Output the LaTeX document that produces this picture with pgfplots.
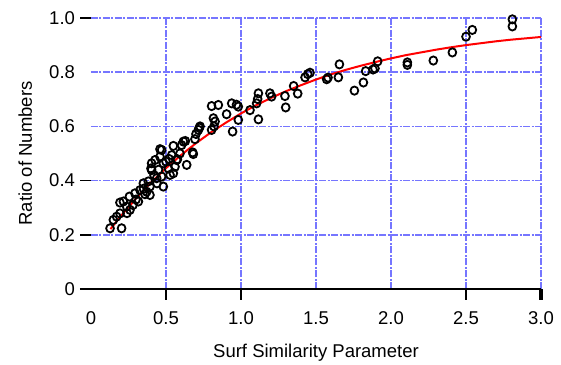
\documentclass[border=0pt]{standalone}
\usepackage{fontspec}
\setmainfont{Liberation Sans}
\usepackage{pgfplots}
\pgfplotsset{compat=1.18}
\definecolor{gridblue}{RGB}{118,118,255}
\definecolor{fitred}{RGB}{255,0,0}

\begin{document}
\begin{tikzpicture}
\begin{axis}[
  scale only axis, width=450pt, height=271pt,
  xmin=0, xmax=3, ymin=0, ymax=1,
  clip=false,
  axis x line*=bottom, axis y line*=left,
  x axis line style={line width=1.6pt, shorten <=-11pt},
  y axis line style={draw=none},
  /pgf/number format/assume math mode=true,
  tick label style={font=\fontsize{18.5}{22}\selectfont},
  label style={font=\fontsize{18.5}{22}\selectfont},
  major tick length=0pt,
  xtick={0.5,1.0,1.5,2.0,2.5,3.0},
  xticklabels={0.5,1.0,1.5,2.0,2.5,3.0},
  extra x ticks={0}, extra x tick labels={0},
  extra x tick style={grid=none},
  ytick={0.2,0.4,0.6,0.8,1.0},
  yticklabels={0.2,0.4,0.6,0.8,1.0},
  extra y ticks={0}, extra y tick labels={0},
  extra y tick style={grid=none},
  xticklabel style={yshift=-19pt},
  yticklabel style={xshift=-12.5pt},
  grid=major,
  major grid style={gridblue, line width=1.4pt,
    dash pattern=on 7pt off 1.5pt on 2pt off 1.5pt},
  xlabel={Surf Similarity Parameter},
  ylabel={Ratio of Numbers},
  xlabel style={at={(axis description cs:0.5,-0.2509)}, anchor=base},
  ylabel style={at={(axis description cs:-0.1311,0.5)}, anchor=base},
]
% page frame
\path (rel axis cs:-0.2022,-0.2657) rectangle (rel axis cs:1.0444,1.0664);

% tick marks
\pgfplotsinvokeforeach{0.5,1.0,2.5}{
  \draw[black, line width=1.6pt] (axis cs:#1,0) -- ++(0,-11pt);
}
\draw[black, line width=4.2pt] (axis cs:3,0) -- ++(0,-11pt);
\pgfplotsinvokeforeach{0,0.2,0.4,1.0}{
  \draw[black, line width=1.6pt] (axis cs:0,#1) -- ++(-11pt,0);
}

% measured ratios
\addplot[only marks, mark=o, mark size=3.9pt,
  mark options={black, line width=1.8pt, yscale=1.06}] coordinates {
  (0.127,0.224) (0.204,0.224) (0.149,0.255) (0.171,0.267) (0.193,0.279)
  (0.193,0.319) (0.216,0.323) (0.238,0.304) (0.260,0.292) (0.256,0.341)
  (0.293,0.353) (0.327,0.365) (0.349,0.390) (0.316,0.323) (0.371,0.359)
  (0.393,0.347) (0.393,0.378) (0.382,0.397) (0.482,0.378) (0.471,0.415)
  (0.438,0.409) (0.404,0.439) (0.404,0.464) (0.427,0.476) (0.460,0.488)
  (0.482,0.464) (0.471,0.513) (0.516,0.445) (0.527,0.421) (0.549,0.427)
  (0.560,0.451) (0.638,0.458) (0.571,0.476) (0.538,0.494) (0.593,0.500)
  (0.682,0.498) (0.300,0.330) (0.350,0.370) (0.420,0.420) (0.450,0.440)
  (0.500,0.470) (0.520,0.480) (0.360,0.350) (0.280,0.310) (0.240,0.280)
  (0.440,0.390) (0.400,0.445) (0.576,0.479)
  (0.460,0.516) (0.549,0.528) (0.616,0.544) (0.629,0.546) (0.604,0.531)
  (0.678,0.504) (0.693,0.553) (0.700,0.572) (0.716,0.587) (0.727,0.600)
  (0.722,0.595) (0.804,0.587) (0.820,0.600) (0.827,0.618) (0.816,0.630)
  (0.804,0.675) (0.849,0.679) (0.938,0.685) (0.982,0.673) (0.970,0.680)
  (0.904,0.645) (0.982,0.624) (0.944,0.581) (1.060,0.660) (1.104,0.685)
  (1.116,0.722) (1.111,0.701) (1.193,0.722) (1.204,0.710) (1.116,0.626)
  (1.293,0.712) (1.298,0.670) (1.351,0.749) (1.378,0.721) (1.427,0.781)
  (1.445,0.793) (1.460,0.798)
  (1.571,0.774) (1.580,0.780) (1.649,0.781) (1.656,0.829) (1.756,0.732)
  (1.816,0.762) (1.831,0.804) (1.880,0.810) (1.893,0.814) (1.911,0.840)
  (2.109,0.836) (2.109,0.827) (2.282,0.843) (2.409,0.873) (2.500,0.931)
  (2.542,0.956) (2.809,0.995) (2.809,0.969)
};

% fitted curve
\addplot[fitred, line width=2pt, sharp plot] coordinates {
  (0.13,0.221) (0.2,0.270) (0.3,0.334) (0.4,0.393) (0.5,0.446)
  (0.6,0.494) (0.7,0.538) (0.8,0.578) (0.9,0.614) (1.0,0.648)
  (1.1,0.678) (1.2,0.705) (1.3,0.730) (1.4,0.752) (1.5,0.773)
  (1.6,0.792) (1.7,0.809) (1.8,0.824) (1.9,0.838) (2.0,0.851)
  (2.1,0.863) (2.2,0.873) (2.3,0.883) (2.4,0.892) (2.5,0.900)
  (2.6,0.907) (2.7,0.914) (2.8,0.920) (2.9,0.925) (3.0,0.930)
};
\end{axis}
\end{tikzpicture}
\end{document}
